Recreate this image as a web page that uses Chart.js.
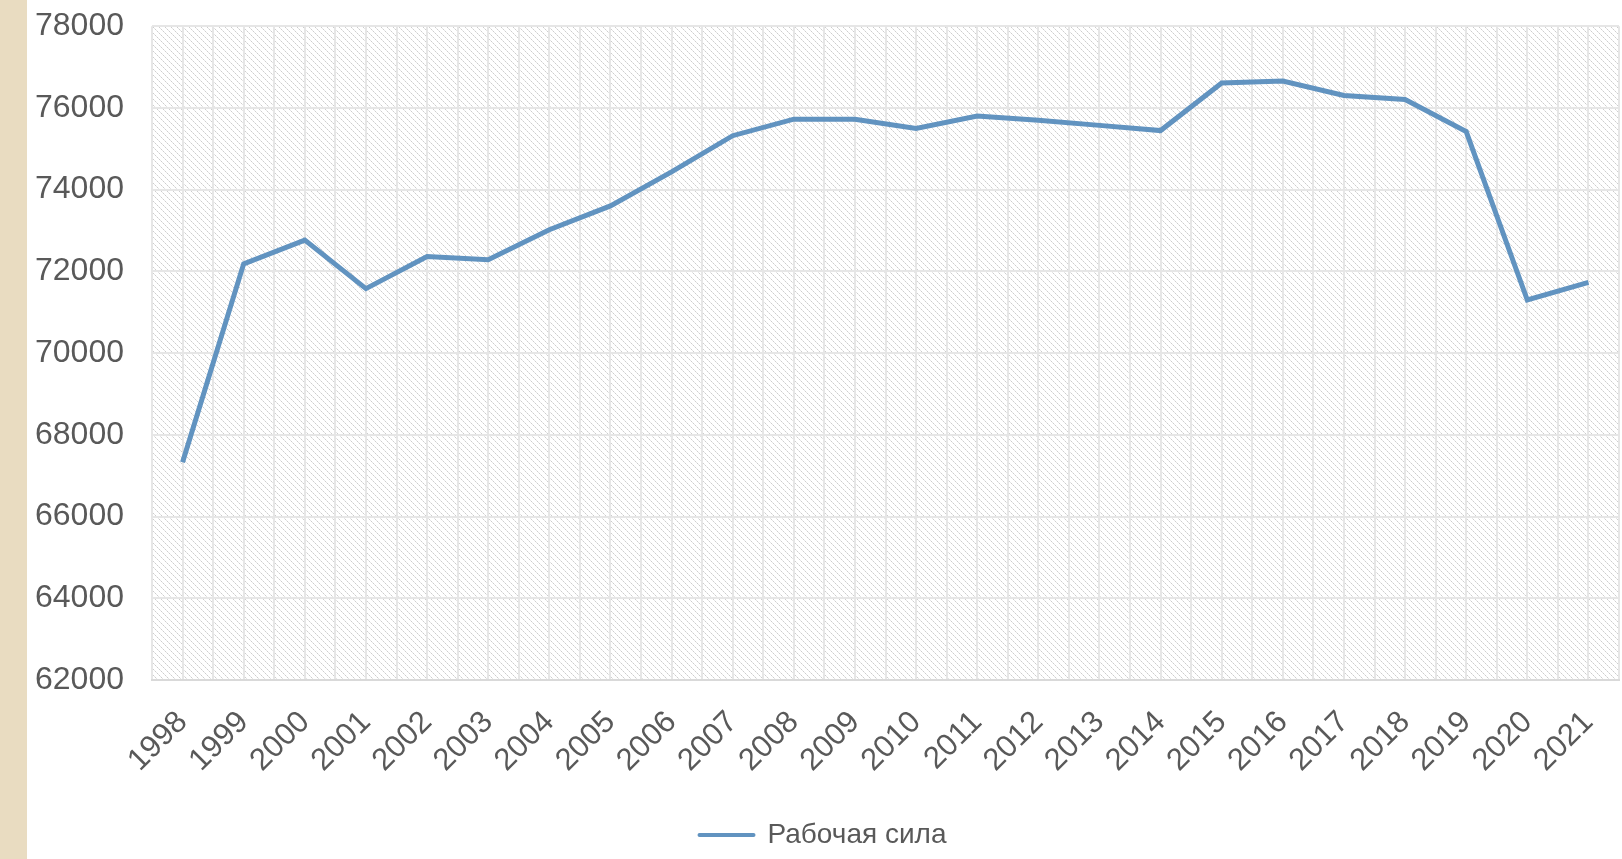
<!DOCTYPE html>
<html>
<head>
<meta charset="utf-8">
<script src="https://cdn.jsdelivr.net/npm/chart.js@4"></script>
<style>
  html, body { margin: 0; padding: 0; background: #fff; overflow: hidden; }
  .side { position: absolute; left: 0; top: 0; width: 27px; height: 859px; background: #e9dcc1; }
  .wrap { position: absolute; left: 27px; top: -21px; width: 1595px; height: 880px; }
</style>
</head>
<body>
<div class="side"></div>
<div class="wrap"><canvas id="myChart"></canvas></div>
<script>
const years = ['1998','1999','2000','2001','2002','2003','2004','2005','2006','2007','2008','2009',
               '2010','2011','2012','2013','2014','2015','2016','2017','2018','2019','2020','2021'];
const labourForce = [67330, 72185, 72766, 71578, 72362, 72286, 73019, 73601, 74435, 75320, 75725, 75725,
                     75497, 75800, 75700, 75573, 75446, 76609, 76660, 76306, 76205, 75421, 71300, 71730];
const yMin = 62000;
const yMax = 78000;
const yStep = 2000;

// hatched plot background
const hatch = document.createElement('canvas');
hatch.width = 6; hatch.height = 6;
const hctx = hatch.getContext('2d');
hctx.fillStyle = '#ffffff';
hctx.fillRect(0, 0, 6, 6);
for (let i = 0; i < 6; i += 1) {
    hctx.fillStyle = i % 2 === 0 ? '#cdcdcd' : '#e4e4e4';
    hctx.fillRect(i, i, 1, 1);
}

const bgPlugin = {
    id: 'hatchBg',
    beforeDraw(chart) {
        const { ctx, chartArea: a } = chart;
        ctx.save();
        ctx.fillStyle = ctx.createPattern(hatch, 'repeat');
        ctx.fillRect(a.left, a.top, a.right - a.left, a.bottom - a.top);
        ctx.restore();
    }
};

const grey = '#595959';
const gridCol = '#e6e6e6';

new Chart(document.getElementById('myChart'), {
    type: 'line',
    data: {
        labels: years,
        datasets: [{
            label: 'Рабочая сила',
            data: labourForce,
            borderColor: '#6193c0',
            backgroundColor: '#6193c0',
            borderWidth: 5,
            pointRadius: 0,
            tension: 0
        }]
    },
    plugins: [bgPlugin],
    options: {
        responsive: true,
        maintainAspectRatio: false,
        animation: false,
        layout: { padding: { top: 0, right: 3 } },
        plugins: {
            tooltip: { enabled: false },
            legend: {
                position: 'bottom',
                labels: {
                    color: grey,
                    font: { family: 'Liberation Sans', size: 28 },
                    usePointStyle: true,
                    pointStyle: 'line',
                    pointStyleWidth: 54,
                    padding: 10,
                    generateLabels(chart) {
                        return Chart.defaults.plugins.legend.labels.generateLabels(chart)
                            .map(l => ({ ...l, lineWidth: 4, lineCap: 'round', pointStyle: 'line' }));
                    }
                }
            }
        },
        scales: {
            x: {
                offset: true,
                grid: { color: gridCol, lineWidth: 2, offset: false, drawTicks: false },
                border: { color: '#d9d9d9', width: 2 },
                ticks: {
                    color: grey,
                    font: { family: 'Liberation Sans', size: 31 },
                    minRotation: 45,
                    maxRotation: 45,
                    padding: 24,
                    autoSkip: false
                },
                afterFit(s) { s.height = 131; s.paddingRight = 0; s.paddingLeft = 0; }
            },
            x2: {
                type: 'category',
                labels: years,
                position: 'bottom',
                offset: true,
                grid: { color: gridCol, lineWidth: 2, offset: true, drawTicks: false },
                border: { display: false },
                ticks: { display: false },
                afterFit(s) { s.height = 0; s.paddingRight = 0; s.paddingLeft = 0; }
            },
            y: {
                min: yMin,
                max: yMax,
                ticks: {
                    stepSize: yStep,
                    color: grey,
                    font: { family: 'Liberation Sans', size: 32 },
                    padding: 28,
                    callback: (v) => String(v)
                },
                grid: { color: gridCol, lineWidth: 2, drawTicks: false },
                border: { display: false },
                afterFit(s) { s.width = 125; }
            }
        }
    }
});
</script>
</body>
</html>
